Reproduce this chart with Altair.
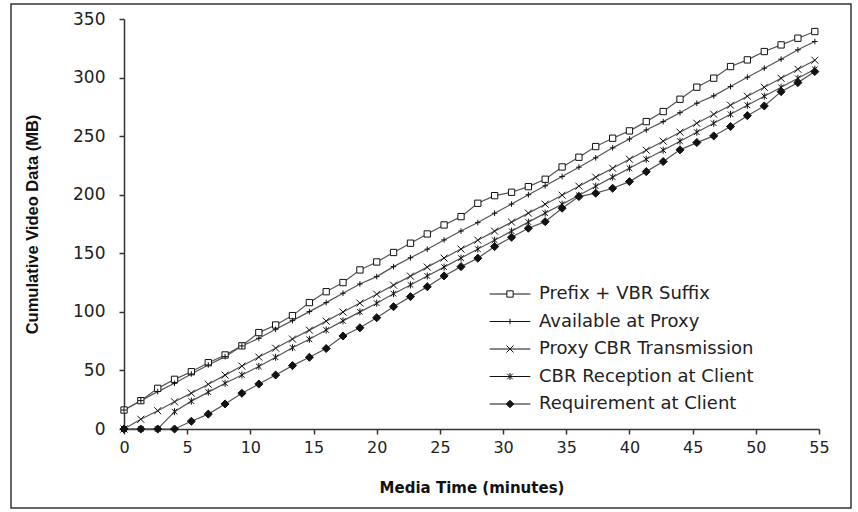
import altair as alt
import pandas as pd

# Media time (minutes) of each sample
time_min = [0, 1.33, 2.67, 4, 5.33, 6.67, 8, 9.33, 10.67, 12, 13.33, 14.67, 16, 17.33,
            18.67, 20, 21.33, 22.67, 24, 25.33, 26.67, 28, 29.33, 30.67, 32, 33.33, 34.67,
            36, 37.33, 38.67, 40, 41.33, 42.67, 44, 45.33, 46.67, 48, 49.33, 50.67, 52,
            53.33, 54.67]

series_names = ["Prefix + VBR Suffix", "Available at Proxy", "Proxy CBR Transmission",
                "CBR Reception at Client", "Requirement at Client"]

prefix_vbr = [16.2, 24.2, 34.7, 42.4, 48.9, 56.6, 63.2, 71.0, 82.3, 88.8, 96.8, 107.9, 117.2,
              125.0, 135.8, 142.6, 150.7, 158.6, 166.5, 174.2, 181.3, 192.7, 199.2, 202.1,
              206.9, 213.2, 223.7, 232.0, 241.1, 248.2, 254.5, 262.4, 271.0, 281.5, 291.8,
              299.5, 309.4, 315.1, 322.2, 327.9, 333.6, 339.3]
available = [16.2, 24.2, 31.9, 39.0, 47.0, 54.7, 61.8, 70.9, 77.4, 85.1, 92.5, 100.2, 107.9,
             115.9, 123.8, 130.1, 138.6, 146.2, 153.5, 161.4, 169.0, 176.2, 184.2, 192.0,
             200.0, 207.6, 215.5, 223.5, 231.5, 240.0, 247.5, 255.3, 262.4, 270.0, 278.1,
             284.4, 292.3, 300.3, 308.0, 315.7, 323.7, 330.8]
proxy_cbr = [0, 8.3, 15.6, 23.2, 30.6, 38.2, 46.0, 53.7, 61.4, 69.0, 76.8, 84.4, 92.1, 99.8,
             107.5, 115.1, 122.8, 130.5, 138.2, 145.9, 153.6, 161.2, 168.9, 176.6, 184.3,
             191.9, 199.6, 207.3, 215.0, 222.6, 230.3, 238.0, 245.7, 253.4, 261.0, 268.7,
             276.4, 284.1, 291.7, 299.4, 307.1, 314.8]
cbr_reception = [0, 0, 0, 14.8, 23.8, 31.5, 39.0, 46.1, 53.4, 61.2, 69.4, 76.6, 84.5, 92.3,
                 100.0, 107.4, 115.5, 123.0, 130.6, 138.2, 145.9, 153.6, 161.2, 168.9, 176.6,
                 184.3, 191.9, 199.5, 207.3, 215.0, 222.6, 230.3, 238.0, 245.7, 253.4, 261.0,
                 268.7, 276.4, 284.1, 291.7, 299.4, 307.1]
requirement = [0, 0, 0, 0, 6.6, 12.7, 21.4, 30.5, 38.4, 46.1, 54.1, 61.2, 68.7, 79.4, 86.4,
               95.0, 104.4, 113.0, 121.5, 130.7, 138.6, 145.8, 155.7, 163.7, 171.4, 177.0,
               188.5, 198.4, 201.3, 205.5, 211.2, 219.7, 228.3, 238.3, 244.5, 250.2, 258.2,
               267.5, 275.8, 288.0, 295.7, 305.1]

x_ticks = list(range(0, 56, 5))
y_ticks = list(range(0, 351, 50))

rows = []
for name, vals in zip(series_names, [prefix_vbr, available, proxy_cbr, cbr_reception, requirement]):
    for t, v in zip(time_min, vals):
        rows.append({"series": name, "t": t, "mb": v})
df = pd.DataFrame(rows)

# marker glyphs (unit box)
marker_paths = [
    "M-0.9,-0.9L0.9,-0.9L0.9,0.9L-0.9,0.9Z",
    "M-0.8,0L0.8,0M0,-0.8L0,0.8",
    "M-1,-1L1,1M-1,1L1,-1",
    "M-0.8,-0.8L0.8,0.8M-0.8,0.8L0.8,-0.8M0,-1L0,1",
    "M0,-1.15L1.15,0L0,1.15L-1.15,0Z",
]
# legend glyphs: line segment with marker (stroke only)
legend_paths = [
    "M-2.9,0L-0.45,0M0.45,0L2.9,0M-0.45,-0.45L0.45,-0.45L0.45,0.45L-0.45,0.45Z",
    "M-2.9,0L2.9,0M0,-0.4L0,0.4",
    "M-2.9,0L2.9,0M-0.5,-0.5L0.5,0.5M-0.5,0.5L0.5,-0.5",
    "M-2.9,0L2.9,0M-0.4,-0.4L0.4,0.4M-0.4,0.4L0.4,-0.4M0,-0.5L0,0.5",
    ("M-2.9,0L2.9,0M0,-0.55L0.55,0L0,0.55L-0.55,0ZM0,-0.42L0.42,0L0,0.42L-0.42,0Z"
     "M0,-0.29L0.29,0L0,0.29L-0.29,0ZM0,-0.16L0.16,0L0,0.16L-0.16,0ZM0,-0.1L0,0.1"),
]
fills = ["white", "white", "white", "white", "#111111"]

x_enc = alt.X("t:Q", scale=alt.Scale(domain=[0, 55], nice=False, zero=False),
              axis=alt.Axis(values=x_ticks, title="Media Time (minutes)", labelPadding=5,
                            labelFlush=False, titlePadding=25, titleFont="DejaVu Sans",
                            titleFontSize=15, titleFontWeight="bold"))
y_enc = alt.Y("mb:Q", scale=alt.Scale(domain=[0, 350], nice=False),
              axis=alt.Axis(values=y_ticks, title="Cumulative Video Data (MB)", labelPadding=14,
                            labelFlush=False, labelFontSize=17, titlePadding=32,
                            titleFont="Liberation Sans", titleFontSize=16.5,
                            titleFontWeight="bold"))

frame = alt.Chart(alt.Data(values=[{"k": 1}])).mark_rect(
    fill="transparent", stroke="#333333", strokeWidth=1.5
).encode(x=alt.value(-113), x2=alt.value(727), y=alt.value(-15), y2=alt.value(489))

lines = alt.Chart(df).mark_line(color="#555555", strokeWidth=1.2).encode(
    x=x_enc, y=y_enc, detail="series:N", order="t:Q")

points = alt.Chart(df).mark_point(filled=False, size=49, strokeWidth=1, opacity=1).encode(
    x=x_enc, y=y_enc,
    shape=alt.Shape("series:N", scale=alt.Scale(domain=series_names, range=marker_paths),
                    legend=None),
    fill=alt.Fill("series:N", scale=alt.Scale(domain=series_names, range=fills), legend=None),
    stroke=alt.value("#111111"),
)

leg = alt.Legend(title=None, orient="none", legendX=364, legendY=266, labelFont="DejaVu Sans",
                 labelFontSize=18, labelColor="#222222", labelLimit=400, rowPadding=9.5,
                 symbolOffset=13, labelOffset=20, padding=0, symbolSize=196,
                 symbolStrokeWidth=1)

legend_layer = alt.Chart(df).transform_filter("false").mark_point(
    filled=False, size=196, strokeWidth=1, opacity=1, color="#111111").encode(
    x=x_enc, y=y_enc,
    shape=alt.Shape("series:N", scale=alt.Scale(domain=series_names, range=legend_paths),
                    legend=leg),
)

chart = alt.layer(frame, lines, points, legend_layer).resolve_scale(
    shape="independent"
).properties(
    width=695, height=410,
    padding={"left": 124, "top": 19, "right": 39, "bottom": 83},
    autosize=alt.AutoSizeParams(type="none"),
).configure_view(strokeWidth=0).configure_axis(
    grid=False, domainColor="#333333", domainWidth=1.5, tickColor="#333333", tickWidth=1.5,
    tickSize=5, labelFont="DejaVu Sans", labelFontSize=16, labelColor="#222222",
    titleColor="#111111"
)

chart.save("out.html", embed_options={"renderer": "svg", "actions": False})
